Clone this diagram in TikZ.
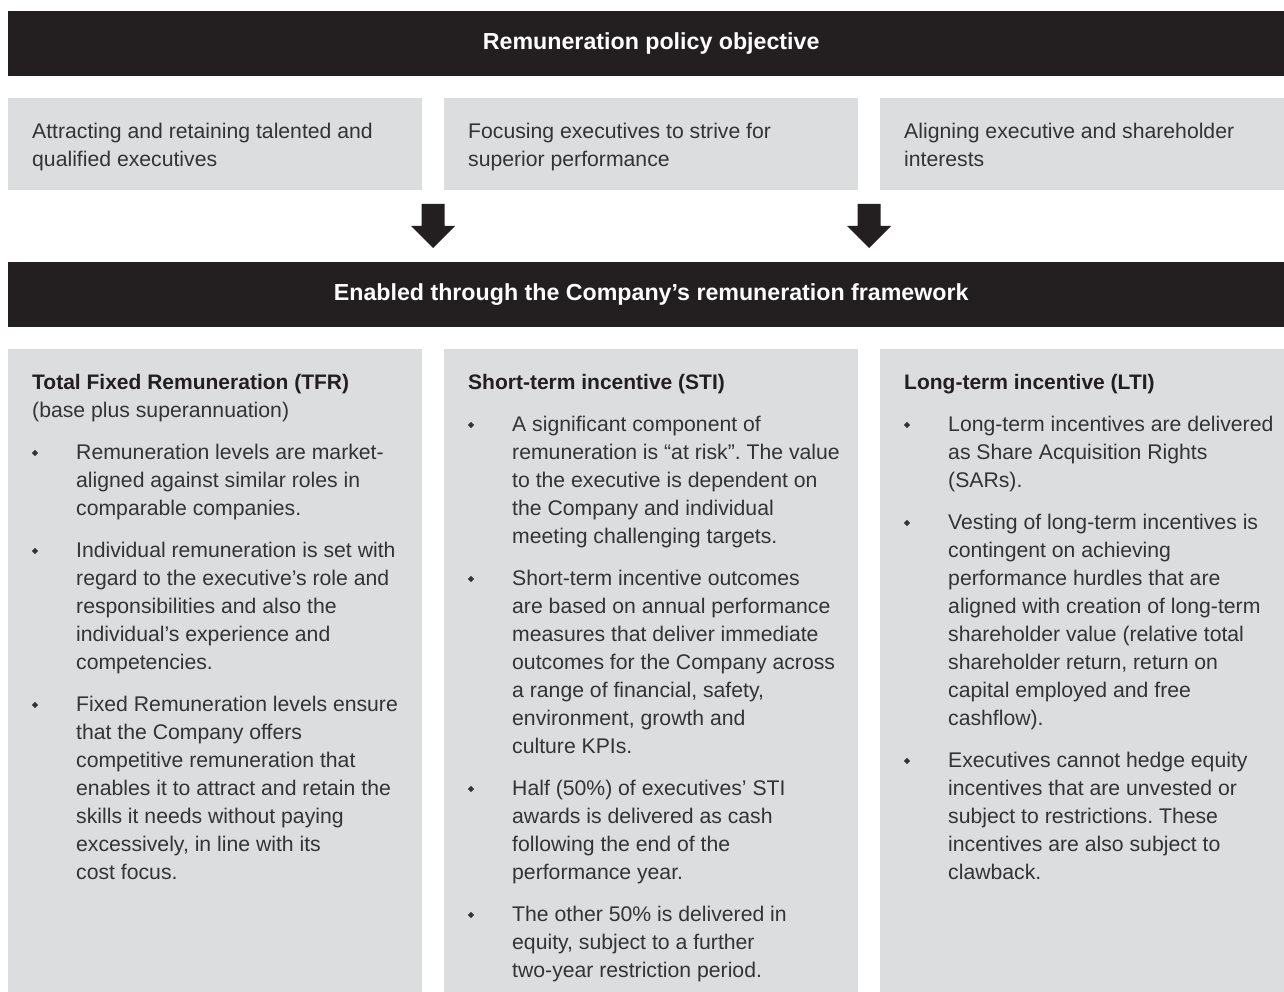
\documentclass[tikz,border=0pt]{standalone}
\usepackage{fontspec}
\setmainfont{Liberation Sans}
\usetikzlibrary{calc,shapes.geometric}
\definecolor{barblack}{HTML}{231F20}
\definecolor{boxgray}{HTML}{DCDDDF}
\definecolor{bodytext}{HTML}{333333}
\frenchspacing
\newcommand\rbody{\fontsize{21.2}{28}\selectfont}
\newcommand\rhead{\fontsize{21}{28}\selectfont\bfseries}
\newcommand\rbar{\fontsize{23.2}{28}\selectfont\bfseries}
\tikzset{
  barbox/.style={fill=barblack, text=white, font=\rbar, anchor=north west, inner sep=0pt, minimum width=1286pt, minimum height=65pt},
  graybox/.style={fill=boxgray, anchor=north west, inner sep=0pt, minimum width=414pt},
  para/.style={anchor=north west, inner sep=0pt, align=left, font=\rbody, text=bodytext},
  headtxt/.style={anchor=north west, inner sep=0pt, align=left, font=\rhead, text=barblack},
  bul/.style={diamond, fill=bodytext, inner sep=0pt, minimum size=6.5pt},
}
\begin{document}
\begin{tikzpicture}[x=1pt,y=-1pt]
\clip (0,0) rectangle (1284,992);
\fill[white] (0,0) rectangle (1284,992);
% bars
\node[barbox] (obj) at (8,11) {Remuneration policy objective};
\node[barbox] (frame) at (8,262) {Enabled through the Company’s remuneration framework};
% top row boxes
\node[graybox, minimum height=92pt] (g1) at (8,98) {};
\node[graybox, minimum height=92pt] (g2) at (444,98) {};
\node[graybox, minimum height=92pt] (g3) at (880,98) {};
\node[para] (t1) at (32,118.4) {\strut Attracting and retaining talented and\\qualified executives};
\node[para] (t2) at (468,118.4) {\strut Focusing executives to strive for\\superior performance};
\node[para] (t3) at (904,118.4) {\strut Aligning executive and shareholder\\interests};
% arrows
\coordinate (ar1) at (433,204);
\coordinate (ar2) at (869,204);
\foreach \a in {ar1,ar2}{
  \fill[barblack] ($(\a)+(-11.5,0)$) -- ($(\a)+(11.5,0)$) -- ($(\a)+(11.5,22)$) -- ($(\a)+(22,22)$)
     -- ($(\a)+(0,44)$) -- ($(\a)+(-22,22)$) -- ($(\a)+(-11.5,22)$) -- cycle;
}
% bottom boxes
\node[graybox, minimum height=660pt] (c1) at (8,349) {};
\node[graybox, minimum height=660pt] (c2) at (444,349) {};
\node[graybox, minimum height=660pt] (c3) at (880,349) {};
% column 1
\node[headtxt] (h1) at (32,369.4) {\strut Total Fixed Remuneration (TFR)};
\node[para] (h1s) at (32,397.4) {\strut (base plus superannuation)};
\node[bul] (b11) at (35,453) {};
\node[para] (p11) at (76,439.4) {\strut Remuneration levels are market-\\aligned against similar roles in\\comparable companies.};
\node[bul] (b12) at (35,551) {};
\node[para] (p12) at (76,537.4) {\strut Individual remuneration is set with\\regard to the executive’s role and\\responsibilities and also the\\individual’s experience and\\competencies.};
\node[bul] (b13) at (35,705) {};
\node[para] (p13) at (76,691.4) {\strut Fixed Remuneration levels ensure\\that the Company offers\\competitive remuneration that\\enables it to attract and retain the\\skills it needs without paying\\excessively, in line with its\\cost focus.};
% column 2
\node[headtxt] (h2) at (468,369.4) {\strut Short-term incentive (STI)};
\node[bul] (b21) at (471,425) {};
\node[para] (p21) at (512,411.4) {\strut A significant component of\\remuneration is “at risk”. The value\\to the executive is dependent on\\the Company and individual\\meeting challenging targets.};
\node[bul] (b22) at (471,579) {};
\node[para] (p22) at (512,565.4) {\strut Short-term incentive outcomes\\are based on annual performance\\measures that deliver immediate\\outcomes for the Company across\\a range of financial, safety,\\environment, growth and\\culture KPIs.};
\node[bul] (b23) at (471,789) {};
\node[para] (p23) at (512,775.4) {\strut Half (50\%) of executives’ STI\\awards is delivered as cash\\following the end of the\\performance year.};
\node[bul] (b24) at (471,915) {};
\node[para] (p24) at (512,901.4) {\strut The other 50\% is delivered in\\equity, subject to a further\\two-year restriction period.};
% column 3
\node[headtxt] (h3) at (904,369.4) {\strut Long-term incentive (LTI)};
\node[bul] (b31) at (907,425) {};
\node[para] (p31) at (948,411.4) {\strut Long-term incentives are delivered\\as Share Acquisition Rights\\(SARs).};
\node[bul] (b32) at (907,523) {};
\node[para] (p32) at (948,509.4) {\strut Vesting of long-term incentives is\\contingent on achieving\\performance hurdles that are\\aligned with creation of long-term\\shareholder value (relative total\\shareholder return, return on\\capital employed and free\\cashflow).};
\node[bul] (b33) at (907,761) {};
\node[para] (p33) at (948,747.4) {\strut Executives cannot hedge equity\\incentives that are unvested or\\subject to restrictions. These\\incentives are also subject to\\clawback.};
\end{tikzpicture}
\end{document}
